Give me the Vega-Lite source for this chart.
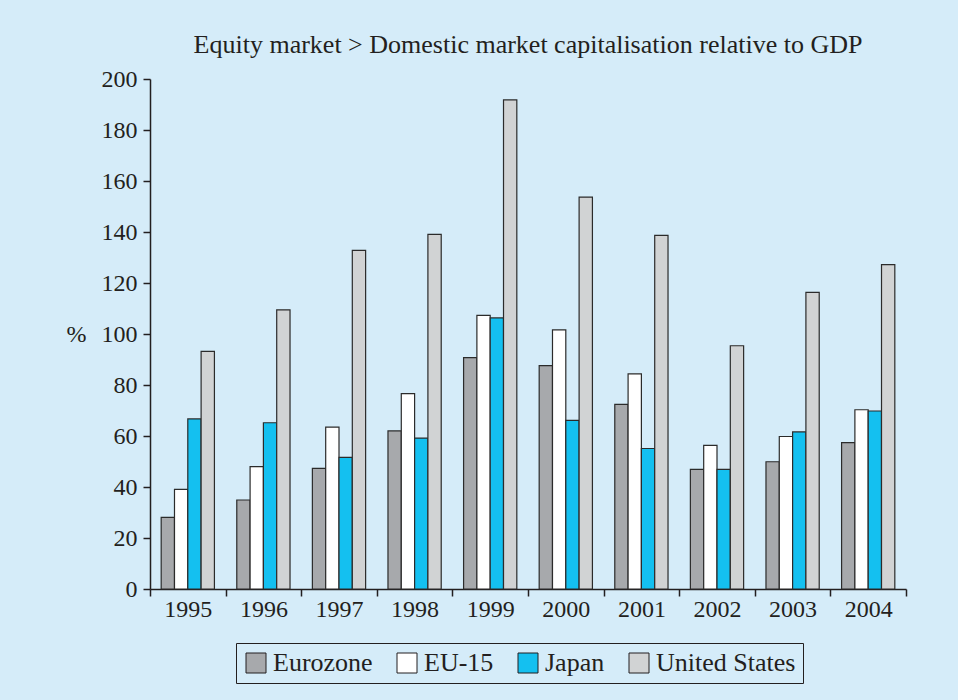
{
  "$schema": "https://vega.github.io/schema/vega-lite/v6.json",
  "width": 756,
  "height": 510,
  "autosize": {"type": "none"},
  "padding": {"left": 150, "top": 79, "right": 52, "bottom": 111},
  "background": "#d5ecf9",
  "title": {
    "text": "Equity market > Domestic market capitalisation relative to GDP",
    "font": "Liberation Serif",
    "fontSize": 26,
    "fontWeight": "normal",
    "color": "#231f20",
    "anchor": "middle",
    "offset": 9
  },
  "data": {
    "values": [
      {"year": "1995", "series": "Eurozone", "value": 28.1},
      {"year": "1995", "series": "EU-15", "value": 39.1},
      {"year": "1995", "series": "Japan", "value": 66.7},
      {"year": "1995", "series": "United States", "value": 93.2},
      {"year": "1996", "series": "Eurozone", "value": 34.9},
      {"year": "1996", "series": "EU-15", "value": 48.0},
      {"year": "1996", "series": "Japan", "value": 65.2},
      {"year": "1996", "series": "United States", "value": 109.5},
      {"year": "1997", "series": "Eurozone", "value": 47.3},
      {"year": "1997", "series": "EU-15", "value": 63.5},
      {"year": "1997", "series": "Japan", "value": 51.6},
      {"year": "1997", "series": "United States", "value": 132.8},
      {"year": "1998", "series": "Eurozone", "value": 62.0},
      {"year": "1998", "series": "EU-15", "value": 76.6},
      {"year": "1998", "series": "Japan", "value": 59.2},
      {"year": "1998", "series": "United States", "value": 139.1},
      {"year": "1999", "series": "Eurozone", "value": 90.7},
      {"year": "1999", "series": "EU-15", "value": 107.3},
      {"year": "1999", "series": "Japan", "value": 106.3},
      {"year": "1999", "series": "United States", "value": 191.8},
      {"year": "2000", "series": "Eurozone", "value": 87.6},
      {"year": "2000", "series": "EU-15", "value": 101.6},
      {"year": "2000", "series": "Japan", "value": 66.1},
      {"year": "2000", "series": "United States", "value": 153.7},
      {"year": "2001", "series": "Eurozone", "value": 72.4},
      {"year": "2001", "series": "EU-15", "value": 84.4},
      {"year": "2001", "series": "Japan", "value": 55.1},
      {"year": "2001", "series": "United States", "value": 138.7},
      {"year": "2002", "series": "Eurozone", "value": 46.9},
      {"year": "2002", "series": "EU-15", "value": 56.3},
      {"year": "2002", "series": "Japan", "value": 46.9},
      {"year": "2002", "series": "United States", "value": 95.4},
      {"year": "2003", "series": "Eurozone", "value": 49.9},
      {"year": "2003", "series": "EU-15", "value": 59.8},
      {"year": "2003", "series": "Japan", "value": 61.6},
      {"year": "2003", "series": "United States", "value": 116.3},
      {"year": "2004", "series": "Eurozone", "value": 57.4},
      {"year": "2004", "series": "EU-15", "value": 70.3},
      {"year": "2004", "series": "Japan", "value": 69.8},
      {"year": "2004", "series": "United States", "value": 127.2}
    ]
  },
  "mark": {"type": "bar", "stroke": "#2b2b2b", "strokeWidth": 1.2},
  "encoding": {
    "x": {
      "field": "year",
      "type": "nominal",
      "scale": {"paddingInner": 0, "paddingOuter": 0},
      "axis": {
        "title": null,
        "labelAngle": 0,
        "tickBand": "extent",
        "tickSize": 7,
        "labelPadding": 1
      }
    },
    "xOffset": {
      "field": "series",
      "type": "nominal",
      "sort": ["Eurozone", "EU-15", "Japan", "United States"],
      "scale": {"paddingInner": 0, "paddingOuter": 0.84}
    },
    "y": {
      "field": "value",
      "type": "quantitative",
      "scale": {"domain": [0, 200], "nice": false},
      "axis": {
        "values": [0, 20, 40, 60, 80, 100, 120, 140, 160, 180, 200],
        "grid": false,
        "title": "%",
        "titleAngle": 0,
        "titleX": -74,
        "titleY": 255,
        "titleAlign": "center",
        "titleBaseline": "middle",
        "tickSize": 7,
        "labelPadding": 6
      }
    },
    "color": {
      "field": "series",
      "type": "nominal",
      "sort": ["Eurozone", "EU-15", "Japan", "United States"],
      "scale": {
        "domain": ["Eurozone", "EU-15", "Japan", "United States"],
        "range": ["#a7a9ac", "#ffffff", "#14c0f0", "#d1d3d4"]
      },
      "legend": {
        "title": null,
        "orient": "none",
        "legendX": 86,
        "legendY": 564,
        "direction": "horizontal",
        "strokeColor": "#231f20",
        "padding": 7,
        "symbolType": "square",
        "symbolSize": 400,
        "symbolStrokeColor": "#231f20",
        "symbolStrokeWidth": 1,
        "symbolOpacity": 1,
        "labelFont": "Liberation Serif",
        "labelFontSize": 26,
        "labelColor": "#231f20",
        "labelOffset": 4,
        "columnPadding": 21,
        "labelLimit": 300
      }
    }
  },
  "config": {
    "view": {"stroke": null},
    "axis": {
      "domainColor": "#231f20",
      "domainWidth": 1.5,
      "tickColor": "#231f20",
      "tickWidth": 1.5,
      "labelFont": "Liberation Serif",
      "labelFontSize": 24,
      "labelColor": "#231f20",
      "titleFont": "Liberation Serif",
      "titleFontSize": 24,
      "titleFontWeight": "normal",
      "titleColor": "#231f20"
    }
  }
}
